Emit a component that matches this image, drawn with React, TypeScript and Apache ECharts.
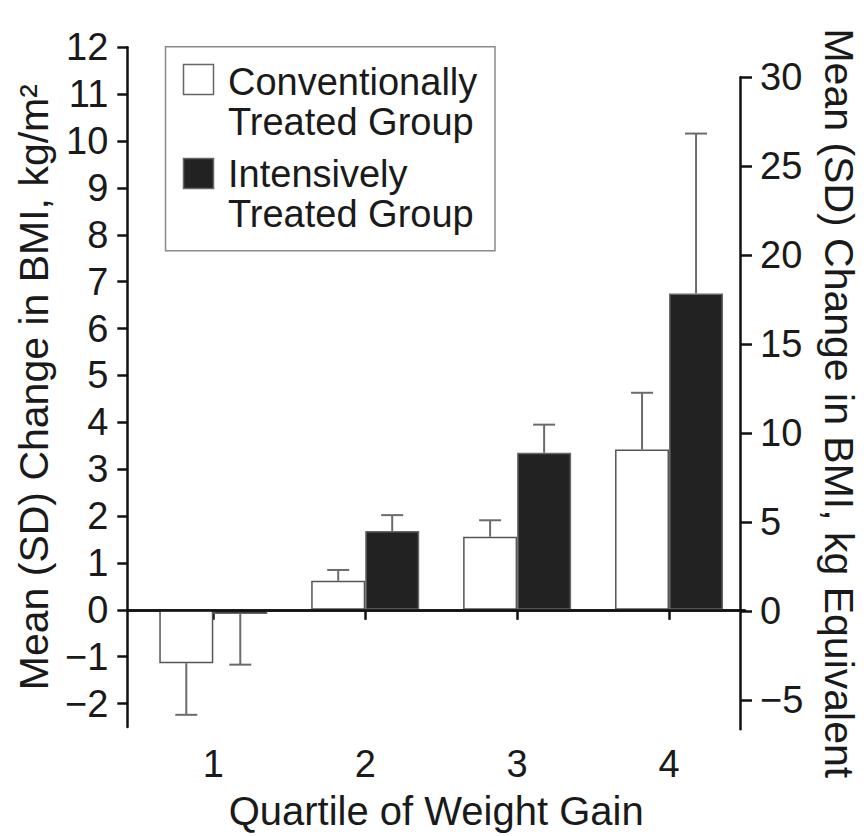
import React, { useEffect, useRef } from "react";
import * as echarts from "echarts";

// ---- data ----
const quartiles = [1, 2, 3, 4];
const conventionalMean = [-1.14, 0.62, 1.56, 3.42];
const conventionalSD = [1.1, 0.23, 0.35, 1.21];
const intensiveMean = [-0.09, 1.68, 3.35, 6.75];
const intensiveSD = [1.08, 0.34, 0.6, 3.41];
const leftTicks = [-2, -1, 0, 1, 2, 3, 4, 5, 6, 7, 8, 9, 10, 11, 12];
const rightTicks = [-5, 0, 5, 10, 15, 20, 25, 30];
const seriesNames = ["Conventionally Treated Group", "Intensively Treated Group"];
const legendLines = [
  ["Conventionally", "Treated Group"],
  ["Intensively", "Treated Group"],
];

const FONT = "'Liberation Sans', Arial, Helvetica, sans-serif";
const TXT = "#1a1a1a";
const BAR_W = 54;

function errorSeries(name: string, means: number[], sds: number[], side: number) {
  return {
    type: "custom",
    name: name + " SD",
    xAxisIndex: 0,
    yAxisIndex: 0,
    silent: true,
    z: 1,
    data: quartiles.map((q, i) => [q, means[i], sds[i]]),
    renderItem: (params: any, api: any) => {
      const x = api.value(0);
      const m = api.value(1);
      const sd = api.value(2);
      const end = m >= 0 ? m + sd : m - sd;
      const p0 = api.coord([x, m]);
      const p1 = api.coord([x, end]);
      const cx = p0[0] + (side * BAR_W) / 2;
      const style = { stroke: "#6b6b6b", lineWidth: 2 };
      return {
        type: "group",
        children: [
          { type: "line", shape: { x1: cx, y1: p0[1], x2: cx, y2: p1[1] }, style },
          { type: "line", shape: { x1: cx - 11, y1: p1[1], x2: cx + 11, y2: p1[1] }, style },
        ],
      };
    },
  };
}

export default function App() {
  const ref = useRef<HTMLDivElement>(null);
  useEffect(() => {
    if (!ref.current) return;
    const chart = echarts.init(ref.current, undefined, { renderer: "svg" });
    const gridLeft = 127.3;
    const gridRight = 867 - 745;
    const gridBottom = 836 - 729.3;
    const axisLine = { show: true, lineStyle: { color: "#111", width: 2.5 } };
    const legendGraphics: any[] = [
      {
        type: "rect",
        shape: { x: 165.5, y: 46.7, width: 329.5, height: 204 },
        style: { fill: "#fff", stroke: "#8a8a8a", lineWidth: 1.5 },
        z: 10,
      },
      {
        type: "rect",
        shape: { x: 183.5, y: 64.5, width: 30, height: 30 },
        style: { fill: "#fff", stroke: "#666", lineWidth: 1.5 },
        z: 11,
      },
      {
        type: "rect",
        shape: { x: 183.5, y: 158.5, width: 30, height: 30 },
        style: { fill: "#222", stroke: "#666", lineWidth: 1.5 },
        z: 11,
      },
    ];
    const lineY = [[82, 122], [174, 214]];
    legendLines.forEach((lines, i) =>
      lines.forEach((t, j) =>
        legendGraphics.push({
          type: "text",
          x: 228,
          y: lineY[i][j],
          z: 11,
          style: {
            text: t,
            font: `38px ${FONT}`,
            fill: TXT,
            verticalAlign: "middle",
            align: "left",
          },
        })
      )
    );

    chart.setOption({
      animation: false,
      backgroundColor: "#fff",
      grid: [
        { left: gridLeft, right: gridRight, top: 47.3, bottom: gridBottom },
        { left: gridLeft, right: gridRight, top: 77.3, bottom: gridBottom },
      ],
      xAxis: [
        {
          type: "value",
          gridIndex: 0,
          min: 0.434,
          max: 4.5,
          axisLine,
          splitLine: { show: false },
          axisTick: { show: true, length: 10, lineStyle: { color: "#111", width: 2.5 }, customValues: quartiles },
          axisLabel: {
            customValues: quartiles,
            margin: 18,
            fontSize: 38,
            fontFamily: FONT,
            color: TXT,
          },
          name: "Quartile of Weight Gain",
          nameLocation: "middle",
          nameGap: 64,
          nameTextStyle: { fontSize: 40, fontFamily: FONT, color: TXT },
        },
        {
          type: "value",
          gridIndex: 1,
          min: 0.434,
          max: 4.5,
          show: false,
        },
      ],
      yAxis: [
        {
          type: "value",
          gridIndex: 0,
          min: -2.5,
          max: 12,
          axisLine,
          splitLine: { show: false },
          axisTick: { show: true, length: 10, lineStyle: { color: "#111", width: 2.5 }, customValues: leftTicks },
          axisLabel: {
            customValues: leftTicks,
            margin: 19,
            fontSize: 38,
            fontFamily: FONT,
            color: TXT,
            formatter: (v: number) => (v < 0 ? "\u2212" + Math.abs(v) : String(v)),
          },
          name: "Mean (SD) Change in BMI, kg/m\u00b2",
          nameLocation: "middle",
          nameRotate: 90,
          nameGap: 69,
          nameTextStyle: { fontSize: 41, fontFamily: FONT, color: TXT },
        },
        {
          type: "value",
          gridIndex: 1,
          position: "right",
          min: -6.63,
          max: 30,
          axisLine,
          splitLine: { show: false },
          axisTick: { show: true, length: 12, lineStyle: { color: "#111", width: 2.5 }, customValues: rightTicks },
          axisLabel: {
            customValues: rightTicks,
            margin: 20,
            fontSize: 38,
            fontFamily: FONT,
            color: TXT,
            formatter: (v: number) => (v < 0 ? "\u2212" + Math.abs(v) : String(v)),
          },
          name: "Mean (SD) Change in BMI, kg Equivalent",
          nameLocation: "middle",
          nameRotate: -90,
          nameGap: 78,
          nameTextStyle: { fontSize: 41, fontFamily: FONT, color: TXT },
        },
      ],
      series: [
        {
          type: "bar",
          name: seriesNames[0],
          xAxisIndex: 0,
          yAxisIndex: 0,
          barWidth: BAR_W,
          barGap: "0%",
          z: 2,
          itemStyle: { color: "#fff", borderColor: "#555", borderWidth: 1.5 },
          data: quartiles.map((q, i) => [q, conventionalMean[i]]),
          markLine: {
            silent: true,
            symbol: "none",
            label: { show: false },
            lineStyle: { color: "#111", width: 2.5, type: "solid" },
            data: [{ yAxis: 0 }],
          },
        },
        {
          type: "bar",
          name: seriesNames[1],
          xAxisIndex: 0,
          yAxisIndex: 0,
          barWidth: BAR_W,
          barGap: "0%",
          z: 2,
          itemStyle: { color: "#222", borderColor: "#666", borderWidth: 1.5 },
          data: quartiles.map((q, i) => [q, intensiveMean[i]]),
        },
        errorSeries(seriesNames[0], conventionalMean, conventionalSD, -1),
        errorSeries(seriesNames[1], intensiveMean, intensiveSD, 1),
      ],
      graphic: legendGraphics,
    });
    return () => chart.dispose();
  }, []);
  return <div ref={ref} style={{ width: 867, height: 836, marginLeft: -8, marginTop: -8 }} />;
}
